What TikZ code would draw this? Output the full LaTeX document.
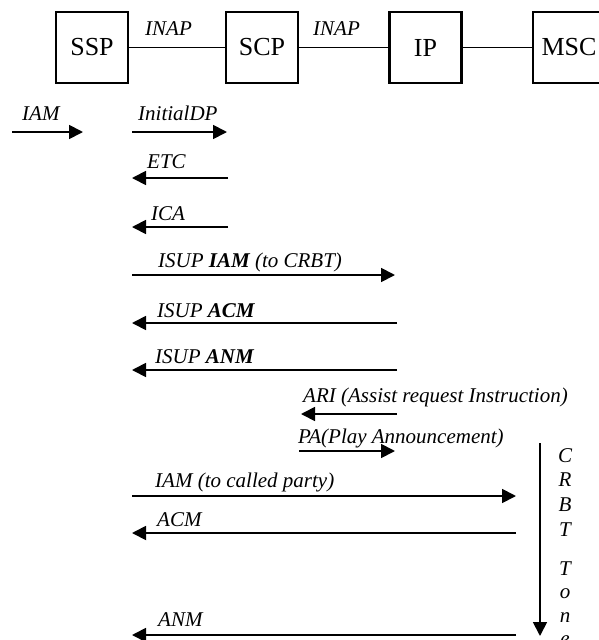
\documentclass[tikz,border=0pt]{standalone}
\usepackage{fontspec}
\setmainfont{Liberation Serif}
\usetikzlibrary{arrows.meta}
\begin{document}
\begin{tikzpicture}[x=1pt,y=-1pt,
  ent/.style={draw, line width=2.2pt, minimum width=72pt, minimum height=71pt,
    inner sep=0pt, font=\fontsize{26}{30}\selectfont},
  link/.style={line width=1.8pt},
  msg/.style={line width=1.8pt, -{Triangle[length=14pt,width=14pt]}},
  lbl/.style={anchor=base west, inner sep=0pt, font=\fontsize{21}{25}\selectfont\itshape},
  tonelbl/.style={anchor=base, inner sep=0pt, font=\fontsize{21}{25}\selectfont\itshape}]
\useasboundingbox (0,0) rectangle (599,640);

% network elements
\node[ent] (ssp) at (92,47.5)  {SSP};
\node[ent] (scp) at (262,47.5) {SCP};
\node[ent] (ip)  at (425.5,47.5) {IP};
\node[ent] (msc) at (569,47.5) {MSC};
\draw[link] (ssp) -- (scp);
\draw[link] (scp) -- (ip);
\draw[link] (ip) -- (msc);
\node[lbl] (inapA) at (145,35) {INAP};
\node[lbl] (inapB) at (313,35) {INAP};

% message end points
\coordinate (iamS) at (12,132);   \coordinate (iamE) at (83,132);
\coordinate (idpS) at (132,132);  \coordinate (idpE) at (227,132);
\coordinate (etcS) at (228,178);  \coordinate (etcE) at (132,178);
\coordinate (icaS) at (228,227);  \coordinate (icaE) at (132,227);
\coordinate (siamS) at (132,275); \coordinate (siamE) at (395,275);
\coordinate (sacmS) at (397,323); \coordinate (sacmE) at (132,323);
\coordinate (sanmS) at (397,370); \coordinate (sanmE) at (132,370);
\coordinate (ariS) at (397,414);  \coordinate (ariE) at (301,414);
\coordinate (paS) at (299,451);   \coordinate (paE) at (395,451);
\coordinate (ciamS) at (132,496); \coordinate (ciamE) at (516,496);
\coordinate (acmS) at (516,533);  \coordinate (acmE) at (132,533);
\coordinate (anmS) at (516,635);  \coordinate (anmE) at (132,635);
\coordinate (toneS) at (540,443); \coordinate (toneE) at (540,636);

% messages
\draw[msg] (iamS) -- (iamE);
\draw[msg] (idpS) -- (idpE);
\draw[msg] (etcS) -- (etcE);
\draw[msg] (icaS) -- (icaE);
\draw[msg] (siamS) -- (siamE);
\draw[msg] (sacmS) -- (sacmE);
\draw[msg] (sanmS) -- (sanmE);
\draw[msg] (ariS) -- (ariE);
\draw[msg] (paS) -- (paE);
\draw[msg] (ciamS) -- (ciamE);
\draw[msg] (acmS) -- (acmE);
\draw[msg] (anmS) -- (anmE);
\draw[msg] (toneS) -- (toneE);

% message labels
\node[lbl] (tIam)  at (22,120)  {IAM};
\node[lbl] (tIdp)  at (138,120) {InitialDP};
\node[lbl] (tEtc)  at (147,168) {ETC};
\node[lbl] (tIca)  at (151,220) {ICA};
\node[lbl] (tSiam) at (158,267) {ISUP \textbf{IAM} (to CRBT)};
\node[lbl] (tSacm) at (157,317) {ISUP \textbf{ACM}};
\node[lbl] (tSanm) at (155,363) {ISUP \textbf{ANM}};
\node[lbl] (tAri)  at (303,402) {ARI (Assist request Instruction)};
\node[lbl] (tPa)   at (298,443) {PA(Play Announcement)};
\node[lbl] (tCiam) at (155,487) {IAM (to called party)};
\node[lbl] (tAcm)  at (157,526) {ACM};
\node[lbl] (tAnm)  at (158,626) {ANM};

% vertical "CRBT Tone" caption
\foreach \ch/\yy [count=\i] in {C/462,R/486.5,B/511,T/536,T/575,o/598.5,n/622,e/645}
  \node[tonelbl] (tone\i) at (565,\yy) {\ch};
\end{tikzpicture}
\end{document}
